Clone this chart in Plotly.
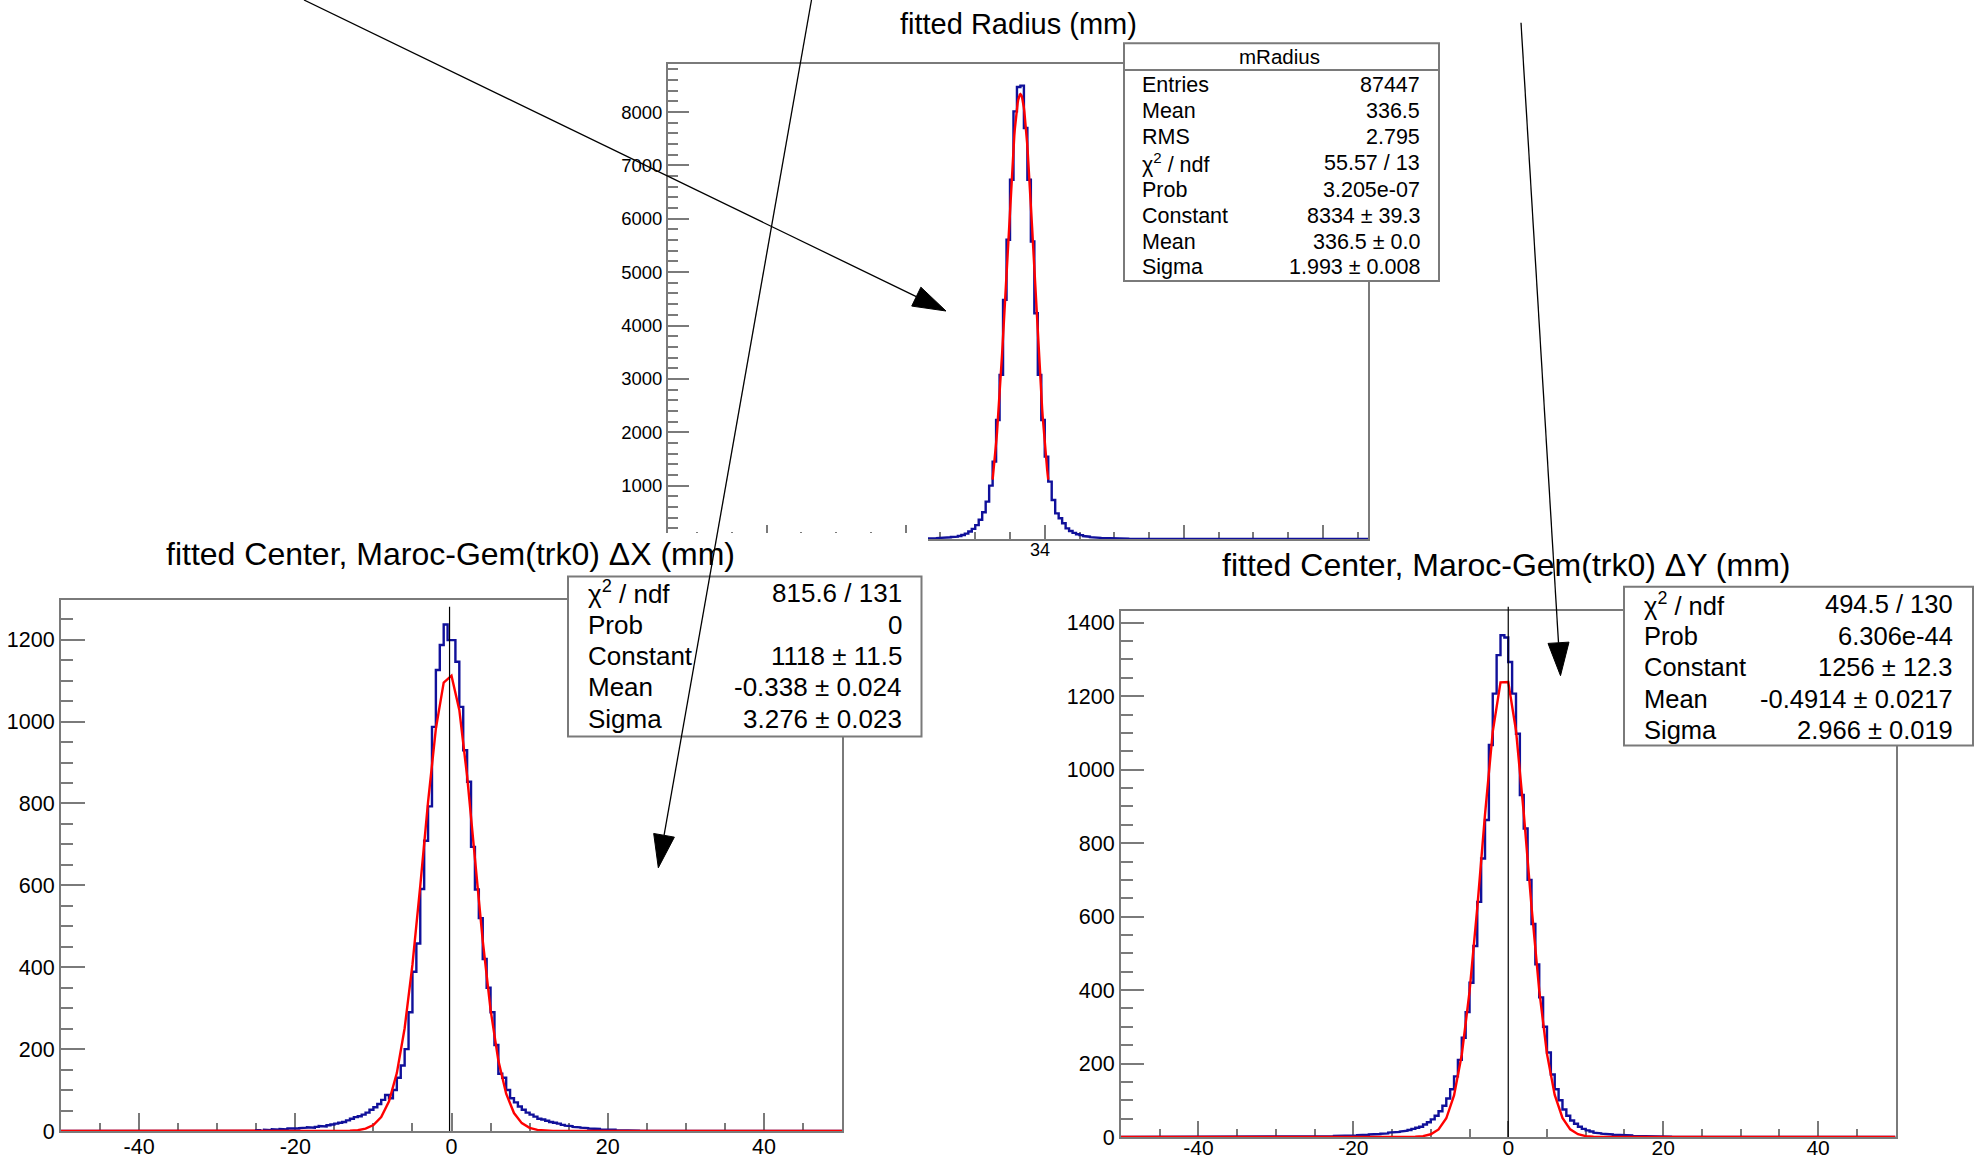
import numpy as np
import plotly.graph_objects as go

W, H = 1981, 1162

# ---------------- data ----------------
bin_width = 0.5

# fitted Radius (mm): bins of 0.5 mm starting at 322.0
radius_first_edge = 322.0
radius_counts = [
    4, 6, 8, 10, 14, 18, 22, 27, 32, 38,            # 322.0 - 327.0
    45, 55, 75, 100, 140, 190, 260, 360, 500, 700,  # 327.0 - 332.0
    1000, 1450, 2231, 3075, 4481, 5606, 6731, 8013, 8470, 8494,  # 332.0 - 337.0
    7700, 6731, 5575, 4231, 3075, 2231, 1544, 1075, 731, 481,    # 337.0 - 342.0
    388, 294, 200, 150, 115, 90, 72, 55, 43, 34,    # 342.0 - 347.0
    27, 22, 18, 14, 11, 9, 7, 6, 5, 4,              # 347.0 - 352.0
    3, 3, 2, 2, 1, 1, 1, 0, 1, 0,                   # 352.0 - 357.0
]

# fitted Center, Maroc-Gem(trk0) dX (mm): bins of 0.5 mm starting at -25.0
dx_first_edge = -25.0
dx_counts = [
    2, 0, 3, 2, 4, 3, 5, 4, 6, 5,
    6, 7, 8, 9, 8, 10, 12, 11, 14, 16,
    18, 20, 22, 26, 30, 34, 36, 40, 45, 52,
    58, 66, 76, 88, 80, 100, 130, 160, 200, 290,
    389, 458, 591, 709, 793, 987, 1126, 1187, 1237, 1199,
    1199, 1146, 1036, 930, 853, 694, 590, 520, 420, 350,
    290, 210, 140, 130, 100, 80, 70, 60, 52, 45,
    40, 35, 30, 28, 25, 22, 20, 18, 15, 13,
    12, 10, 9, 8, 7, 6, 6, 5, 4, 4,
    3, 3, 2, 2, 2, 1, 1, 1, 0, 1,
]

# fitted Center, Maroc-Gem(trk0) dY (mm): bins of 0.5 mm starting at -25.0
dy_first_edge = -25.0
dy_counts = [
    1, 0, 2, 1, 2, 3, 2, 3, 4, 3,
    4, 5, 4, 6, 7, 6, 8, 9, 10, 12,
    12, 14, 15, 17, 19, 22, 25, 28, 34, 40,
    48, 58, 70, 85, 105, 130, 165, 210, 270, 340,
    420, 520, 640, 758, 863, 1067, 1207, 1312, 1366, 1360,
    1293, 1207, 1098, 931, 840, 700, 580, 470, 380, 300,
    230, 170, 130, 100, 75, 58, 45, 36, 28, 22,
    18, 15, 12, 10, 9, 8, 7, 6, 5, 5,
    4, 4, 3, 3, 3, 2, 2, 2, 1, 1,
    1, 1, 0, 1, 0, 1, 0, 0, 1, 0,
]

# Gaussian fit parameters (from the stat boxes) and fit ranges
radius_fit = {"constant": 8334, "mean": 336.5, "sigma": 1.993, "lo": 332.5, "hi": 340.5}
dx_fit = {"constant": 1118, "mean": -0.338, "sigma": 3.276, "lo": -50.0, "hi": 50.0}
dy_fit = {"constant": 1256, "mean": -0.4914, "sigma": 2.966, "lo": -50.0, "hi": 50.0}

# titles
radius_title = "fitted Radius (mm)"
dx_title = "fitted Center, Maroc-Gem(trk0) ΔX (mm)"
dy_title = "fitted Center, Maroc-Gem(trk0) ΔY (mm)"

# stat boxes
radius_stats_name = "mRadius"
radius_stats_labels = ["Entries", "Mean", "RMS", "χ<sup>2</sup> / ndf", "Prob", "Constant", "Mean", "Sigma"]
radius_stats_values = ["87447", "336.5", "2.795", "55.57 / 13", "3.205e-07", "8334 ± 39.3", "336.5 ± 0.0", "1.993 ± 0.008"]
dx_stats_labels = ["χ<sup>2</sup> / ndf", "Prob", "Constant", "Mean", "Sigma"]
dx_stats_values = ["815.6 / 131", "0", "1118 ± 11.5", "-0.338 ± 0.024", "3.276 ± 0.023"]
dy_stats_labels = ["χ<sup>2</sup> / ndf", "Prob", "Constant", "Mean", "Sigma"]
dy_stats_values = ["494.5 / 130", "6.306e-44", "1256 ± 12.3", "-0.4914 ± 0.0217", "2.966 ± 0.019"]

# axis ranges and tick labels
radius_xrange = [285.8, 386.5]
radius_yrange = [0, 8900]
radius_ytickvals = [1000, 2000, 3000, 4000, 5000, 6000, 7000, 8000]
radius_yticktext = ["1000", "2000", "3000", "4000", "5000", "6000", "7000", "8000"]
radius_visible_xlabel = "34"
center_xrange = [-50, 50]
center_xtickvals = [-40, -20, 0, 20, 40]
center_xticktext = ["-40", "-20", "0", "20", "40"]
dx_yrange = [0, 1297]
dx_ytickvals = [0, 200, 400, 600, 800, 1000, 1200]
dy_yrange = [0, 1432]
dy_ytickvals = [0, 200, 400, 600, 800, 1000, 1200, 1400]

# ---------------- styling / helpers ----------------
FONT = "Liberation Sans, Arial, Helvetica, sans-serif"
BLUE = "#10109a"
RED = "#ff0000"
FRAME = "#7a7a7a"


def px(x):
    return x / W


def py(y):
    return 1 - y / H


def step_xy(first_edge, counts, lo, hi):
    counts = np.asarray(counts, dtype=float)
    edges = first_edge + bin_width * np.arange(len(counts) + 1)
    xs = [lo, edges[0]]
    ys = [0.0, 0.0]
    for i, c in enumerate(counts):
        xs += [edges[i], edges[i + 1]]
        ys += [c, c]
    xs += [edges[-1], hi]
    ys += [0.0, 0.0]
    return xs, ys


def gauss_xy(fit, npx=100):
    x = np.linspace(fit["lo"], fit["hi"], npx + 1)
    y = fit["constant"] * np.exp(-0.5 * ((x - fit["mean"]) / fit["sigma"]) ** 2)
    return x, y


fig = go.Figure()

panels = [
    ("x", "y", radius_first_edge, radius_counts, radius_xrange, radius_fit),
    ("x2", "y2", dx_first_edge, dx_counts, center_xrange, dx_fit),
    ("x3", "y3", dy_first_edge, dy_counts, center_xrange, dy_fit),
]
for xa, ya, fe, cnt, xr, fit in panels:
    sx, sy = step_xy(fe, cnt, xr[0], xr[1])
    fig.add_trace(go.Scatter(x=sx, y=sy, mode="lines", xaxis=xa, yaxis=ya,
                             line=dict(color=BLUE, width=2.4), hoverinfo="skip", showlegend=False))
    gx, gy = gauss_xy(fit)
    fig.add_trace(go.Scatter(x=gx, y=gy, mode="lines", xaxis=xa, yaxis=ya,
                             line=dict(color=RED, width=2.4), hoverinfo="skip", showlegend=False))


def minor(dt, ln):
    return dict(tickmode="linear", tick0=0, dtick=dt, ticklen=ln, ticks="inside",
                tickcolor=FRAME, tickwidth=2)


def axis_common(**kw):
    d = dict(showline=True, mirror=True, linecolor=FRAME, linewidth=2,
             ticks="inside", tickcolor=FRAME, tickwidth=2,
             showgrid=False, zeroline=False, automargin=False,
             tickfont=dict(family=FONT, color="#000000"), layer="below traces")
    d.update(kw)
    return d


TF_SMALL = dict(size=18.5, family=FONT, color="#000")
TF = dict(size=21.5, family=FONT, color="#000")

fig.update_layout(
    width=W, height=H, margin=dict(l=0, r=0, t=0, b=0),
    paper_bgcolor="white", plot_bgcolor="white", showlegend=False,
    font=dict(family=FONT, color="#000000"),
    xaxis=axis_common(domain=[px(668), px(1368)], range=radius_xrange, anchor="y",
                      tickmode="linear", tick0=0, dtick=20, ticklen=14, showticklabels=False,
                      minor=minor(5, 7)),
    yaxis=axis_common(domain=[py(539), py(64)], range=radius_yrange, anchor="x",
                      tickmode="array", tickvals=radius_ytickvals, ticktext=radius_yticktext,
                      ticklen=21, tickfont=TF_SMALL, minor=minor(200, 10)),
    xaxis2=axis_common(domain=[px(61), px(842)], range=center_xrange, anchor="y2",
                       tickmode="array", tickvals=center_xtickvals, ticktext=center_xticktext,
                       ticklen=18, tickfont=TF, ticklabelstandoff=-5, minor=minor(5, 8)),
    yaxis2=axis_common(domain=[py(1131), py(600)], range=dx_yrange, anchor="x2",
                       tickmode="array", tickvals=dx_ytickvals, ticktext=[str(v) for v in dx_ytickvals],
                       ticklen=24, tickfont=TF, minor=minor(50, 12)),
    xaxis3=axis_common(domain=[px(1121), px(1895.5)], range=center_xrange, anchor="y3",
                       tickmode="array", tickvals=center_xtickvals, ticktext=center_xticktext,
                       ticklen=16, tickfont=dict(size=21, family=FONT, color="#000"),
                       ticklabelstandoff=-9, minor=minor(5, 8)),
    yaxis3=axis_common(domain=[py(1137), py(611)], range=dy_yrange, anchor="x3",
                       tickmode="array", tickvals=dy_ytickvals, ticktext=[str(v) for v in dy_ytickvals],
                       ticklen=23, tickfont=TF, minor=minor(50, 12)),
)

shapes = []
annotations = []


def ann(text, x, y, size, xanchor="center", yanchor="middle", color="#000000"):
    annotations.append(dict(text=text, x=px(x), y=py(y), xref="paper", yref="paper",
                            xanchor=xanchor, yanchor=yanchor, showarrow=False,
                            font=dict(family=FONT, size=size, color=color)))


def rect(x0, y0, x1, y1, fill="white", line=FRAME, lw=2):
    shapes.append(dict(type="rect", xref="paper", yref="paper", layer="above",
                       x0=px(x0), x1=px(x1), y0=py(y1), y1=py(y0),
                       fillcolor=fill, line=dict(color=line, width=lw)))


def line(x0, y0, x1, y1, color="#000000", lw=1.3):
    shapes.append(dict(type="line", xref="paper", yref="paper", layer="above",
                       x0=px(x0), y0=py(y0), x1=px(x1), y1=py(y1),
                       line=dict(color=color, width=lw)))


# white area of the lower-left pad hiding the bottom of the upper frame
shapes.append(dict(type="rect", xref="paper", yref="paper", layer="above",
                   x0=px(600), x1=px(928), y0=py(548), y1=py(533),
                   fillcolor="white", line=dict(width=0)))

# partially hidden x label of the upper histogram
ann(radius_visible_xlabel, 1028, 550, 18, xanchor="left")

# titles
ann(radius_title, 1018, 24, 29)
ann(dx_title, 450.5, 554, 32)
ann(dy_title, 1506, 565, 32)

# vertical reference lines in the lower pads
shapes.append(dict(type="line", xref="x2", yref="paper", layer="above",
                   x0=-0.25, x1=-0.25, y0=py(1131), y1=py(606.7), line=dict(color="#000", width=1.2)))
shapes.append(dict(type="line", xref="x3", yref="paper", layer="above",
                   x0=0, x1=0, y0=py(1137), y1=py(606.7), line=dict(color="#000", width=1.2)))

# stat box: mRadius
rect(1124, 43.3, 1439, 281)
line(1124, 70, 1439, 70, color=FRAME, lw=2)
ann(radius_stats_name, 1279, 57, 20.5)
rows_y = [85, 111, 137, 163.5, 190, 216, 242.5, 266.5]
for lab, val, yy in zip(radius_stats_labels, radius_stats_values, rows_y):
    ann(lab, 1140, yy, 21.5, xanchor="left")
    ann(val, 1422, yy, 21.5, xanchor="right")

# stat box: dX
rect(568, 576.4, 921.5, 736.4)
rows_y = [592.5, 624.7, 655.8, 687.2, 719.4]
for lab, val, yy in zip(dx_stats_labels, dx_stats_values, rows_y):
    ann(lab, 586, yy, 26, xanchor="left")
    ann(val, 903.5, yy, 26, xanchor="right")

# stat box: dY
rect(1624, 586.8, 1973, 745.5)
rows_y = [603.5, 636.4, 667, 698.7, 730.4]
for lab, val, yy in zip(dy_stats_labels, dy_stats_values, rows_y):
    ann(lab, 1641.5, yy, 25.5, xanchor="left")
    ann(val, 1954.6, yy, 25.5, xanchor="right")


# arrows drawn on the canvas
def arrow(x0, y0, x1, y1, L=33, hw=10.5):
    dx, dy = x1 - x0, y1 - y0
    n = (dx * dx + dy * dy) ** 0.5
    ux, uy = dx / n, dy / n
    bx, by = x1 - ux * L, y1 - uy * L
    nx, ny = -uy, ux
    line(x0, y0, bx, by, color="#000000", lw=1.3)
    p1 = (bx + nx * hw, by + ny * hw)
    p2 = (bx - nx * hw, by - ny * hw)
    path = "M {},{} L {},{} L {},{} Z".format(px(x1), py(y1), px(p1[0]), py(p1[1]), px(p2[0]), py(p2[1]))
    shapes.append(dict(type="path", xref="paper", yref="paper", layer="above", path=path,
                       fillcolor="#000000", line=dict(color="#000000", width=1)))


arrow(304, 0, 946, 311)
arrow(811.5, 0, 658.3, 867.8)
arrow(1521, 22.7, 1560.5, 675.7)

fig.update_layout(shapes=shapes, annotations=annotations)
fig.write_html("out.html")
